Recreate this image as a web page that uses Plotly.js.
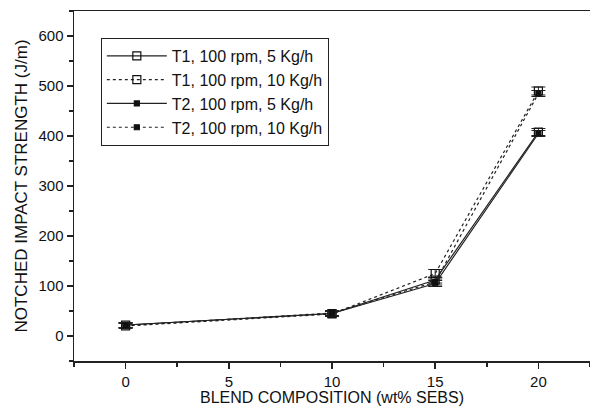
<!DOCTYPE html>
<html>
<head>
<meta charset="utf-8">
<script src="https://cdn.plot.ly/plotly-3.0.1.min.js"></script>
<style>body{margin:0;background:#fff}#chart{width:590px;height:406px}</style>
</head>
<body>
<div id="chart"></div>
<script>
const composition = [0, 10, 15, 20];
const t1_5 = [22, 45, 112, 408];
const t1_10 = [20, 44, 125, 490];
const t2_5 = [22, 45, 105, 405];
const t2_10 = [21, 46, 108, 485];
const err_t1_5 = [5, 5, 6, 7];
const err_t1_10 = [5, 5, 8, 8];
const err_t2_5 = [5, 5, 6, 6];
const err_t2_10 = [5, 5, 6, 6];
const names = ["T1, 100 rpm, 5 Kg/h", "T1, 100 rpm, 10 Kg/h", "T2, 100 rpm, 5 Kg/h", "T2, 100 rpm, 10 Kg/h"];

function tr(y, e, name, dash, symbol, size) {
  return {
    x: composition, y: y, name: name, type: 'scatter', mode: 'lines+markers',
    line: {color: '#222', width: 1.2, dash: dash},
    marker: {symbol: symbol, size: size, color: '#111', line: {color: '#111', width: 1.2}},
    error_y: {type: 'data', array: e, visible: true, color: '#222', thickness: 1, width: 7}
  };
}
const data = [
  tr(t1_5, err_t1_5, names[0], 'solid', 'square-open', 8),
  tr(t1_10, err_t1_10, names[1], 'dot', 'square-open', 8),
  tr(t2_5, err_t2_5, names[2], 'solid', 'square', 5),
  tr(t2_10, err_t2_10, names[3], 'dot', 'square', 5)
];
const layout = {
  width: 590, height: 406,
  margin: {l: 74, r: 0, t: 11, b: 45},
  paper_bgcolor: '#fff', plot_bgcolor: '#fff',
  font: {family: 'Liberation Sans, Arial, sans-serif', size: 15, color: '#111'},
  showlegend: true,
  legend: {x: 0.052, y: 0.923, xanchor: 'left', yanchor: 'top', bordercolor: '#222', borderwidth: 1,
           bgcolor: '#fff', font: {size: 16, color: '#111'}, itemwidth: 60},
  xaxis: {
    range: [-2.5, 22.5], tickvals: [0, 5, 10, 15, 20], ticks: 'outside', ticklen: 6, tickwidth: 1.5,
    tickcolor: '#222', showline: true, linecolor: '#222', linewidth: 1.5, mirror: true,
    showgrid: false, zeroline: false,
    minor: {tickvals: [-2.5, 2.5, 7.5, 12.5, 17.5, 22.5], ticks: 'outside', ticklen: 4, tickcolor: '#222'},
    title: {text: 'BLEND COMPOSITION (wt% SEBS)', font: {size: 16}, standoff: 3}
  },
  yaxis: {
    range: [-50, 650], tickvals: [0, 100, 200, 300, 400, 500, 600], ticks: 'outside', ticklen: 6, tickwidth: 1.5,
    tickcolor: '#222', showline: true, linecolor: '#222', linewidth: 1.5, mirror: false,
    showgrid: false, zeroline: false,
    minor: {tickvals: [-50, 50, 150, 250, 350, 450, 550, 650], ticks: 'outside', ticklen: 4, tickcolor: '#222'},
    title: {text: 'NOTCHED IMPACT STRENGTH (J/m)', font: {size: 17}, standoff: 6}
  }
};
Plotly.newPlot('chart', data, layout, {displayModeBar: false, staticPlot: true});
</script>
</body>
</html>
